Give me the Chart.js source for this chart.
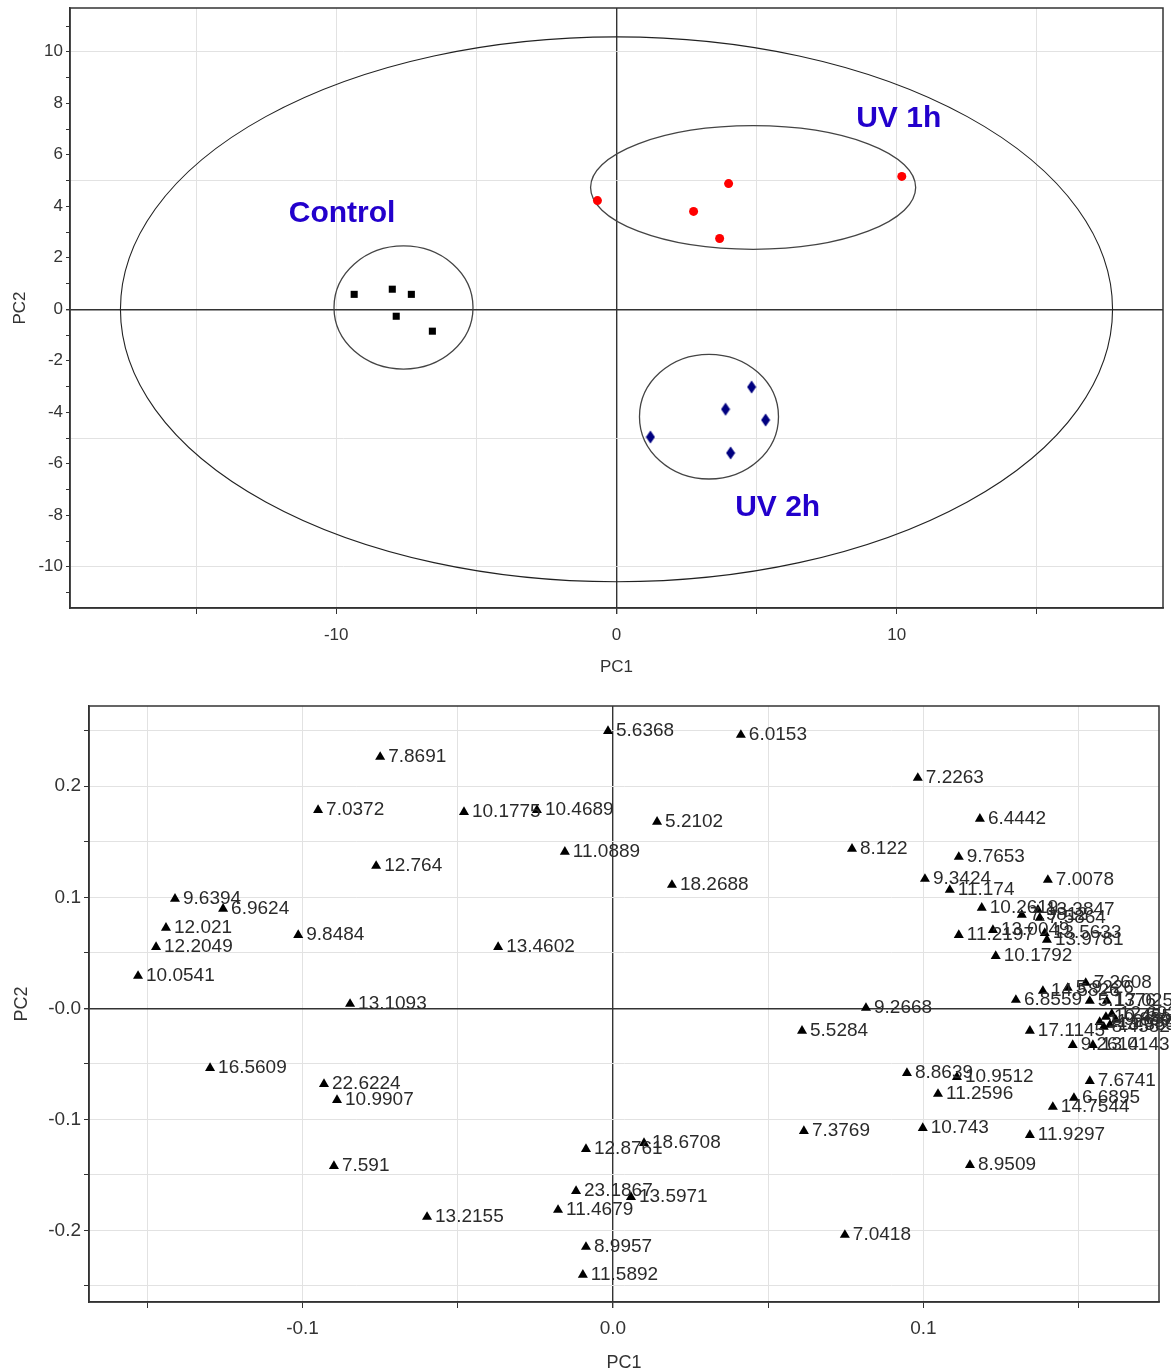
<!DOCTYPE html>
<html>
<head>
<meta charset="utf-8">
<script src="https://cdn.jsdelivr.net/npm/chart.js@4.4.1/dist/chart.umd.min.js"></script>
<style>
  html, body { margin: 0; padding: 0; background: #fff; }
  #scores { position: absolute; left: 0; top: 0; }
  #loadings { position: absolute; left: 0; top: 690px; }
</style>
</head>
<body>
<canvas id="scores" width="1171" height="690"></canvas>
<canvas id="loadings" width="1171" height="682"></canvas>
<script>
// scores plot
const scoreGroups = ['Control', 'UV 1h', 'UV 2h'];
const controlPC1 = [-9.36, -8.0, -7.32, -7.86, -6.57];
const controlPC2 = [0.58, 0.78, 0.58, -0.27, -0.85];
const uv1hPC1 = [-0.68, 2.75, 4.0, 3.68, 10.18];
const uv1hPC2 = [4.22, 3.80, 4.88, 2.75, 5.16];
const uv2hPC1 = [1.21, 3.89, 4.82, 5.32, 4.07];
const uv2hPC2 = [-4.96, -3.88, -3.02, -4.30, -5.58];

// Hotelling ellipse and group ellipses (centre, half axes)
const hotelling = [0, 0, 17.7, 10.58];
const groupEllipseCX = [-7.6, 4.875, 3.3];
const groupEllipseCY = [0.07, 4.73, -4.17];
const groupEllipseRX = [2.48, 5.8, 2.48];
const groupEllipseRY = [2.39, 2.4, 2.42];
const groupLabelX = [-9.79, 10.07, 5.75];
const groupLabelY = [3.72, 7.40, -7.71];

// loadings plot
const loadingLabels = [
  '5.6368', '6.0153', '7.8691', '7.2263', '7.0372', '10.1775', '10.4689', '5.2102', '6.4442', '11.0889',
  '8.122', '12.764', '9.7653', '18.2688', '9.3424', '7.0078', '11.174', '9.6394', '6.9624', '12.021',
  '9.8484', '12.2049', '13.4602', '10.0541', '10.2619', '13.3847', '7.5864', '7.9812', '11.2197', '13.0049',
  '13.5633', '13.9781', '10.1792', '13.1093', '9.2668', '5.5284', '14.5826', '5.9226', '7.2608', '6.8559',
  '5.1376', '17.0253', '11.2638', '10.4558', '12.6932', '9.8805', '8.4582', '13.3538', '17.1145', '9.2614',
  '13.0143', '16.5609', '22.6224', '10.9907', '8.8639', '10.9512', '11.2596', '7.6741', '6.6895', '14.7544',
  '12.8761', '18.6708', '7.3769', '10.743', '11.9297', '7.591', '8.9509', '23.1867', '13.5971', '11.4679',
  '13.2155', '7.0418', '8.9957', '11.5892'
];
const loadingPC1 = [
  -0.0016, 0.0412, -0.0750, 0.0982, -0.0950, -0.0480, -0.0245, 0.0142, 0.1182, -0.0155,
  0.0770, -0.0763, 0.1114, 0.0190, 0.1005, 0.1401, 0.1085, -0.1411, -0.1256, -0.1440,
  -0.1014, -0.1472, -0.0370, -0.1530, 0.1188, 0.1369, 0.1375, 0.1317, 0.1114, 0.1224,
  0.1391, 0.1398, 0.1233, -0.0847, 0.0815, 0.0609, 0.1385, 0.1465, 0.1523, 0.1298,
  0.1536, 0.1591, 0.1568, 0.1588, 0.1607, 0.1620, 0.1581, 0.1601, 0.1343, 0.1481,
  0.1546, -0.1298, -0.0931, -0.0889, 0.0947, 0.1108, 0.1047, 0.1536, 0.1485, 0.1417,
  -0.0087, 0.0100, 0.0615, 0.0998, 0.1343, -0.0899, 0.1150, -0.0119, 0.0058, -0.0177,
  -0.0599, 0.0747, -0.0087, -0.0097
];
const loadingPC2 = [
  0.2498, 0.2462, 0.2264, 0.2075, 0.1786, 0.1768, 0.1786, 0.1679, 0.1706, 0.1410,
  0.1436, 0.1282, 0.1363, 0.1111, 0.1165, 0.1156, 0.1066, 0.0986, 0.0895, 0.0724,
  0.0660, 0.0552, 0.0552, 0.0291, 0.0904, 0.0886, 0.0814, 0.0841, 0.0660, 0.0705,
  0.0678, 0.0616, 0.0471, 0.0039, 0.0003, -0.0204, 0.0156, 0.0183, 0.0228, 0.0075,
  0.0066, 0.0066, -0.0124, -0.0078, -0.0051, -0.0105, -0.0168, -0.0150, -0.0204, -0.0331,
  -0.0331, -0.0539, -0.0683, -0.0827, -0.0583, -0.0619, -0.0772, -0.0655, -0.0808, -0.0889,
  -0.1268, -0.1214, -0.1106, -0.1079, -0.1142, -0.1421, -0.1412, -0.1646, -0.1700, -0.1817,
  -0.1880, -0.2042, -0.2150, -0.2402
];

Chart.defaults.font.family = '"Liberation Sans", Arial, sans-serif';
Chart.defaults.color = '#333';
Chart.defaults.animation = false;

const toPoints = (xs, ys) => xs.map((v, i) => ({x: v, y: ys[i]}));
const isMult = (v, step) => Math.abs(Math.round(v / step) * step - v) < 1e-9;

// tall navy diamond marker
const diamond = document.createElement('canvas');
diamond.width = 10;
diamond.height = 14;
{
  const d = diamond.getContext('2d');
  d.fillStyle = '#000080';
  d.beginPath();
  d.moveTo(5, 0.5); d.lineTo(9.5, 7); d.lineTo(5, 13.5); d.lineTo(0.5, 7);
  d.closePath();
  d.fill();
}

const frame = {
  id: 'frame',
  afterDraw(chart) {
    const {ctx, chartArea: a} = chart;
    ctx.save();
    ctx.strokeStyle = '#333';
    ctx.lineWidth = 1.5;
    ctx.strokeRect(a.left, a.top, a.right - a.left, a.bottom - a.top);
    ctx.restore();
  }
};

const ellipses = {
  id: 'ellipses',
  beforeDatasetsDraw(chart) {
    const {ctx, scales: {x, y}} = chart;
    const draw = (cx, cy, rx, ry) => {
      const px = x.getPixelForValue(cx), py = y.getPixelForValue(cy);
      ctx.beginPath();
      ctx.ellipse(px, py, Math.abs(x.getPixelForValue(cx + rx) - px),
        Math.abs(y.getPixelForValue(cy + ry) - py), 0, 0, Math.PI * 2);
      ctx.stroke();
    };
    ctx.save();
    ctx.strokeStyle = '#222';
    ctx.lineWidth = 1.1;
    draw(...hotelling);
    ctx.strokeStyle = '#444';
    ctx.lineWidth = 1.3;
    groupEllipseCX.forEach((cx, i) => draw(cx, groupEllipseCY[i], groupEllipseRX[i], groupEllipseRY[i]));
    ctx.fillStyle = '#2200cc';
    ctx.font = 'bold 30px "Liberation Sans", Arial, sans-serif';
    ctx.textAlign = 'center';
    ctx.textBaseline = 'middle';
    scoreGroups.forEach((g, i) => ctx.fillText(g, x.getPixelForValue(groupLabelX[i]), y.getPixelForValue(groupLabelY[i])));
    ctx.restore();
  }
};

const pointLabels = {
  id: 'pointLabels',
  afterDatasetsDraw(chart) {
    const {ctx} = chart;
    const meta = chart.getDatasetMeta(0);
    ctx.save();
    ctx.fillStyle = '#2a2a2a';
    ctx.font = '19px "Liberation Sans", Arial, sans-serif';
    ctx.textAlign = 'left';
    ctx.textBaseline = 'middle';
    meta.data.forEach((pt, i) => ctx.fillText(loadingLabels[i], pt.x + 8, pt.y));
    ctx.restore();
  }
};

const isZero = c => Math.abs(c.tick.value) < 1e-9;
const gridColor = (step, c) => !isMult(c.tick.value, step) ? 'rgba(0,0,0,0)' :
  (isZero(c) ? '#333' : '#e2e2e2');
const gridWidth = c => isZero(c) ? 1.4 : 1;

new Chart(document.getElementById('scores'), {
  type: 'scatter',
  data: {
    datasets: [
      {label: scoreGroups[0], data: toPoints(controlPC1, controlPC2), pointStyle: 'rect', pointRadius: 5,
        backgroundColor: '#000', borderColor: '#000', borderWidth: 0},
      {label: scoreGroups[1], data: toPoints(uv1hPC1, uv1hPC2), pointStyle: 'circle', pointRadius: 4.5,
        backgroundColor: '#ff0000', borderColor: '#ff0000', borderWidth: 0},
      {label: scoreGroups[2], data: toPoints(uv2hPC1, uv2hPC2), pointStyle: diamond, pointRadius: 6,
        backgroundColor: '#000080', borderColor: '#000080', borderWidth: 0}
    ]
  },
  options: {
    responsive: false,
    layout: {padding: {left: 0, top: 8, right: 8, bottom: 0}},
    plugins: {legend: {display: false}, tooltip: {enabled: false}},
    scales: {
      x: {
        type: 'linear', min: -19.5, max: 19.5,
        afterFit: s => { s.height = 82; s.paddingLeft = 0; s.paddingRight = 0; },
        border: {color: '#333', width: 1.5},
        grid: {color: c => gridColor(5, c), lineWidth: gridWidth, tickColor: '#333', tickLength: 6},
        ticks: {stepSize: 5, includeBounds: false, autoSkip: false, maxRotation: 0, padding: 11,
          font: {size: 17}, callback: v => isMult(v, 10) ? String(v) : ''},
        title: {display: true, text: 'PC1', font: {size: 17}, padding: {top: 0, bottom: 12}}
      },
      y: {
        type: 'linear', min: -11.6, max: 11.7,
        afterFit: s => { s.width = 70; s.paddingTop = 0; s.paddingBottom = 0; },
        border: {color: '#333', width: 1.5},
        grid: {color: c => gridColor(5, c), lineWidth: gridWidth, tickColor: '#333', tickLength: 4},
        ticks: {stepSize: 1, includeBounds: false, autoSkip: false, padding: 3,
          font: {size: 17}, callback: v => isMult(v, 2) ? String(v) : ''},
        title: {display: true, text: 'PC2', font: {size: 17}, padding: {top: 10, bottom: 0}}
      }
    }
  },
  plugins: [ellipses, frame]
});

new Chart(document.getElementById('loadings'), {
  type: 'scatter',
  data: {
    datasets: [{
      label: 'Loadings', data: toPoints(loadingPC1, loadingPC2), pointStyle: 'triangle', pointRadius: 5.8,
      backgroundColor: '#000', borderColor: '#000', borderWidth: 0
    }]
  },
  options: {
    responsive: false,
    layout: {padding: {left: 0, top: 16, right: 12, bottom: 0}},
    plugins: {legend: {display: false}, tooltip: {enabled: false}},
    scales: {
      x: {
        type: 'linear', min: -0.1688, max: 0.1759,
        afterFit: s => { s.height = 70; s.paddingLeft = 0; s.paddingRight = 0; },
        border: {color: '#333', width: 1.5},
        grid: {color: c => gridColor(0.05, c), lineWidth: gridWidth, tickColor: '#333', tickLength: 6},
        ticks: {stepSize: 0.05, includeBounds: false, autoSkip: false, maxRotation: 0, padding: 9,
          font: {size: 19}, callback: v => isMult(v, 0.1) ? v.toFixed(1) : ''},
        title: {display: true, text: 'PC1', font: {size: 18, lineHeight: 1}, padding: {top: 0, bottom: 0}}
      },
      y: {
        type: 'linear', min: -0.2646, max: 0.2723,
        afterFit: s => { s.width = 89; s.paddingTop = 0; s.paddingBottom = 0; },
        border: {color: '#333', width: 1.5},
        grid: {color: c => gridColor(0.05, c), lineWidth: gridWidth, tickColor: '#333', tickLength: 5},
        ticks: {stepSize: 0.05, includeBounds: false, autoSkip: false, padding: 3,
          font: {size: 19},
          callback: v => !isMult(v, 0.1) ? '' : (Math.abs(v) < 1e-9 ? '-0.0' : v.toFixed(1))},
        title: {display: true, text: 'PC2', font: {size: 18, lineHeight: 1}, padding: {top: 13, bottom: 0}}
      }
    }
  },
  plugins: [pointLabels, frame]
});
</script>
</body>
</html>
